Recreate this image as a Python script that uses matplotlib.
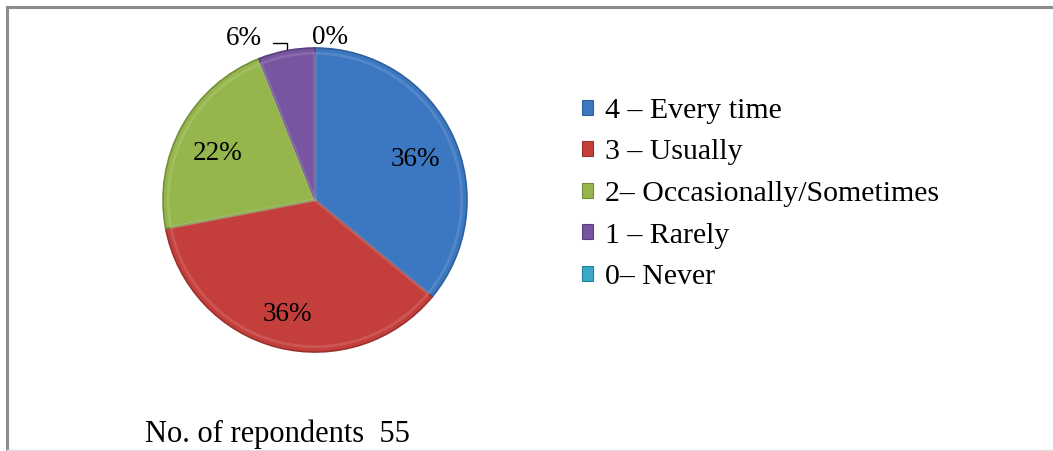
import numpy as np
import matplotlib.pyplot as plt
from matplotlib.lines import Line2D
from matplotlib.patches import Rectangle

plt.rcParams['font.family'] = ['Liberation Serif', 'DejaVu Serif']

# Data
categories = ['4 – Every time', '3 – Usually', '2– Occasionally/Sometimes', '1 – Rarely', '0– Never']
shares = [36, 36, 22, 6, 0]
colors = ['#3c77c1', '#c43f3c', '#95b64c', '#7755a0', '#3aa9c8']
edges = ['#2f5f9c', '#9a302e', '#738d38', '#5a3e7e', '#25809a']
respondents = 55

W, H = 1053, 451
fig = plt.figure(figsize=(W / 100, H / 100), dpi=100)

# pie area: centre (315, 200), radius 152 px
cx, cy, r = 315, 200, 152
ax = fig.add_axes([(cx - r) / W, (H - cy - r) / H, 2 * r / W, 2 * r / H])

wedges, _ = ax.pie(shares, colors=colors, startangle=90, counterclock=False,
                   wedgeprops=dict(linewidth=1.2))
for w, ec, v in zip(wedges, edges, shares):
    w.set_edgecolor(ec)
    if v == 0:
        w.set_linewidth(0)

# faint inner highlight for the bevel look
hl, _ = ax.pie(shares, colors=colors, startangle=90, counterclock=False, radius=0.965,
               wedgeprops=dict(linewidth=2))
for w, v in zip(hl, shares):
    w.set_fill(False)
    w.set_edgecolor((1, 1, 1, 0.12))
    if v == 0:
        w.set_linewidth(0)

ax.set_xlim(-1, 1)
ax.set_ylim(-1, 1)
ax.set_aspect('equal')
ax.axis('off')

# percentage labels inside the big slices
for w, v in zip(wedges, shares):
    if v >= 10:
        mid = np.deg2rad((w.theta1 + w.theta2) / 2)
        d = 0.73
        ax.annotate(f'{v}%', xy=(d * np.cos(mid), d * np.sin(mid)), xytext=(0, -3),
                    textcoords='offset points', ha='center', va='center_baseline',
                    fontsize=19.5, color='black')

# small slices labelled outside
w1 = wedges[3]
ang = np.deg2rad((w1.theta1 + w1.theta2) / 2)
ax.annotate(f'{shares[3]}%', xy=(np.cos(ang), np.sin(ang) + 0.01), xytext=(-0.47, 1.06),
            ha='center', va='center', fontsize=19.5, annotation_clip=False,
            arrowprops=dict(arrowstyle='-', color='black', lw=1, relpos=(1, 0.35),
                            shrinkA=6, shrinkB=0,
                            connectionstyle='angle,angleA=0,angleB=90,rad=0'))
ax.text(0.1, 1.07, f'{shares[4]}%', ha='center', va='center', fontsize=19.5, clip_on=False)

# legend
handles = [Rectangle((0, 0), 1, 1, facecolor=c, edgecolor=e, lw=0.8) for c, e in zip(colors, edges)]
fig.legend(handles, categories, loc='upper left', bbox_to_anchor=(567 / W, 1 - 83 / H),
           frameon=False, fontsize=21.5, handlelength=0.38, handleheight=0.38,
           handletextpad=0.4, labelspacing=0.52, borderpad=0)

fig.text(145 / W, 1 - 434 / H, f'No. of repondents  {respondents}', fontsize=22,
         ha='left', va='center')

# outer frame
fig.add_artist(Line2D([7 / W, 1], [1 - 7 / H, 1 - 7 / H], color='#8c8c8c', lw=2.2))
fig.add_artist(Line2D([7 / W, 7 / W], [0, 1 - 7 / H], color='#8c8c8c', lw=2.2))
fig.add_artist(Line2D([7 / W, 1], [1 / H, 1 / H], color='#e0e0e0', lw=1))

fig.savefig('out.png', dpi=100, facecolor='white')
